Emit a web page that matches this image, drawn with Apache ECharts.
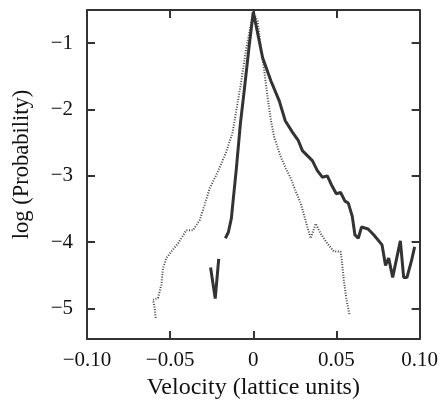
<!DOCTYPE html>
<html>
<head>
<meta charset="utf-8">
<script src="https://cdn.jsdelivr.net/npm/echarts@6/dist/echarts.min.js"></script>
<style>html,body{margin:0;padding:0;background:#fff}#c{width:441px;height:405px}</style>
</head>
<body>
<div id="c"></div>
<script>
// Solid curve (main branch)
const solidX = [-0.0168,-0.0150,-0.0132,-0.0120,-0.0102,-0.0078,-0.0054,-0.0024,0,0.0056,0.0106,0.0156,0.0192,0.0235,0.0271,0.0295,0.0355,0.0385,0.0415,0.0445,0.0471,0.0499,0.0525,0.0551,0.0571,0.0595,0.0611,0.0631,0.0651,0.0690,0.0725,0.0774,0.0795,0.0814,0.0838,0.0884,0.0904,0.0924,0.0950,0.0970];
const solidY = [-3.94,-3.85,-3.64,-3.34,-2.89,-2.22,-1.70,-1.02,-0.53,-1.22,-1.57,-1.87,-2.17,-2.34,-2.47,-2.62,-2.77,-2.92,-3.02,-3.00,-3.14,-3.27,-3.25,-3.38,-3.41,-3.61,-3.89,-3.94,-3.77,-3.80,-3.89,-4.04,-4.35,-4.24,-4.53,-3.98,-4.53,-4.53,-4.29,-4.07];
// Solid curve (isolated segment)
const solidSegX = [-0.0257,-0.0229,-0.0208];
const solidSegY = [-4.38,-4.85,-4.25];
// Dotted curve
const dottedX = [-0.0587,-0.0593,-0.0603,-0.0573,-0.0553,-0.0543,-0.0523,-0.0493,-0.0453,-0.0403,-0.0363,-0.0323,-0.0293,-0.0263,-0.0214,-0.0163,-0.0124,-0.0104,-0.0074,-0.0044,0,0.0026,0.0046,0.0066,0.0086,0.0106,0.0126,0.0166,0.0196,0.0226,0.0256,0.0286,0.0305,0.0325,0.0345,0.0375,0.0405,0.0445,0.0485,0.0525,0.0535,0.0545,0.0559,0.0578];
const dottedY = [-5.14,-4.99,-4.87,-4.84,-4.64,-4.39,-4.24,-4.14,-4.02,-3.82,-3.82,-3.67,-3.44,-3.19,-2.94,-2.64,-2.34,-2.04,-1.60,-1.10,-0.53,-0.67,-1.07,-1.42,-1.82,-2.17,-2.42,-2.72,-2.89,-3.04,-3.24,-3.42,-3.59,-3.77,-3.94,-3.72,-3.87,-4.02,-4.14,-4.14,-4.34,-4.59,-4.84,-5.09];
// Ticks
const xTicks = [-0.10,-0.05,0,0.05,0.10];
const yTicks = [-5,-4,-3,-2,-1];

const zip = (xs, ys) => xs.map((x, i) => [x, ys[i]]);
const FONT = '"Liberation Serif","Times New Roman",serif';
const AX = '#333';
const fmtX = v => Math.abs(v) < 1e-9 ? '0' : (v < 0 ? '\u2212' : '') + Math.abs(v).toFixed(2);
const fmtY = v => (v < 0 ? '\u2212' : '') + Math.abs(v);

const X_MIN = -0.10, X_MAX = 0.10, Y_MIN = -5.46, Y_MAX = -0.5;

const chart = echarts.init(document.getElementById('c'), null, {renderer: 'canvas'});
chart.setOption({
  animation: false,
  grid: {left: 87, right: 20, top: 10, bottom: 63, containLabel: false},
  xAxis: [{
    type: 'value', min: X_MIN, max: X_MAX, position: 'bottom',
    name: 'Velocity (lattice units)', nameLocation: 'middle', nameGap: 32,
    nameTextStyle: {fontFamily: FONT, fontSize: 24, color: '#111'},
    axisLine: {show: true, onZero: false, lineStyle: {color: AX, width: 2}},
    axisTick: {show: true, inside: true, length: 8, customValues: xTicks, lineStyle: {color: AX, width: 2}},
    axisLabel: {customValues: xTicks, formatter: fmtX, fontFamily: FONT, fontSize: 21, color: '#111', margin: 11},
    splitLine: {show: false}
  }, {
    type: 'value', min: X_MIN, max: X_MAX, position: 'top',
    axisLine: {show: true, onZero: false, lineStyle: {color: AX, width: 2}},
    axisTick: {show: true, inside: true, length: 8, customValues: xTicks, lineStyle: {color: AX, width: 2}},
    axisLabel: {show: false}, splitLine: {show: false}
  }],
  yAxis: [{
    type: 'value', min: Y_MIN, max: Y_MAX, position: 'left',
    name: 'log (Probability)', nameLocation: 'middle', nameGap: 53, nameRotate: 90,
    nameTextStyle: {fontFamily: FONT, fontSize: 22.5, color: '#111', padding: [0, 0, 0, 20]},
    axisLine: {show: true, onZero: false, lineStyle: {color: AX, width: 2}},
    axisTick: {show: true, inside: true, length: 8, customValues: yTicks, lineStyle: {color: AX, width: 2}},
    axisLabel: {customValues: yTicks, formatter: fmtY, fontFamily: FONT, fontSize: 21, color: '#111', margin: 14},
    splitLine: {show: false}
  }, {
    type: 'value', min: Y_MIN, max: Y_MAX, position: 'right',
    axisLine: {show: true, onZero: false, lineStyle: {color: AX, width: 2}},
    axisTick: {show: true, inside: true, length: 8, customValues: yTicks, lineStyle: {color: AX, width: 2}},
    axisLabel: {show: false}, splitLine: {show: false}
  }],
  series: [{
    type: 'line', data: zip(dottedX, dottedY), showSymbol: false, symbol: 'none',
    lineStyle: {color: '#444', width: 2, type: [1, 1.6]}, z: 2
  }, {
    type: 'line', data: zip(solidX, solidY), showSymbol: false, symbol: 'none',
    lineStyle: {color: '#333', width: 3}, z: 3
  }, {
    type: 'line', data: zip(solidSegX, solidSegY), showSymbol: false, symbol: 'none',
    lineStyle: {color: '#333', width: 3}, z: 3
  }]
});
</script>
</body>
</html>
